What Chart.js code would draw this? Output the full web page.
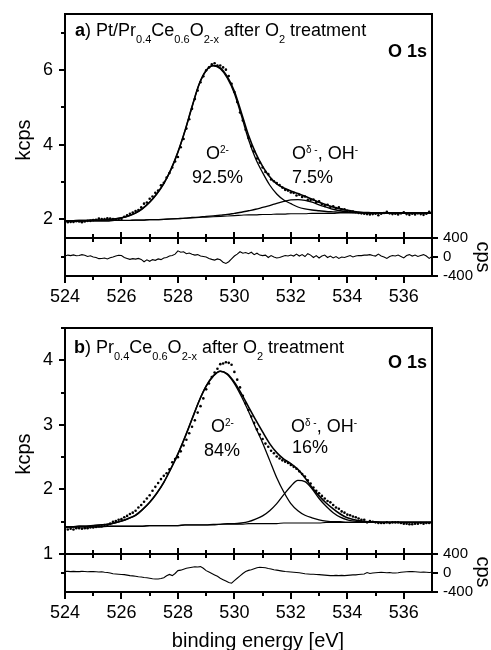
<!DOCTYPE html>
<html>
<head>
<meta charset="utf-8">
<script src="https://cdn.jsdelivr.net/npm/chart.js@4.4.1/dist/chart.umd.min.js"></script>
<style>
  body { margin: 0; background: #fff; }
  #fig { position: relative; width: 491px; height: 650px; overflow: hidden; font-family: 'Liberation Sans', Arial, sans-serif; color: #000; }
  #fig canvas { position: absolute; left: 0; }
  .t { position: absolute; font-size: 18px; line-height: 18px; white-space: nowrap; }
  .sb { position: relative; top: 7px; font-size: 11px; }
  .sp { position: relative; top: -6px; font-size: 10px; }
  .ax { position: absolute; font-size: 20px; line-height: 20px; white-space: nowrap; }
</style>
</head>
<body>
<div id="fig">
  <canvas id="mainA" width="491" height="240" style="top:0px"></canvas>
  <canvas id="resA" width="491" height="93" style="top:228px"></canvas>
  <canvas id="mainB" width="491" height="252" style="top:314px"></canvas>
  <canvas id="resB" width="491" height="93" style="top:544px"></canvas>

  <!-- panel a labels -->
  <div class="t" style="left:75px;top:21px"><b>a</b>) Pt/Pr<span class="sb">0.4</span>Ce<span class="sb">0.6</span>O<span class="sb">2-x</span> after O<span class="sb">2</span> treatment</div>
  <div class="t" style="right:64px;top:42px;font-weight:bold">O 1s</div>
  <div class="t" style="left:206px;top:144px">O<span class="sp">2-</span></div>
  <div class="t" style="left:192px;top:168px">92.5%</div>
  <div class="t" style="left:292px;top:144px">O<span class="sp">δ -</span>, OH<span class="sp">-</span></div>
  <div class="t" style="left:292px;top:168px">7.5%</div>

  <!-- panel b labels -->
  <div class="t" style="left:74px;top:338px"><b>b</b>) Pr<span class="sb">0.4</span>Ce<span class="sb">0.6</span>O<span class="sb">2-x</span> after O<span class="sb">2</span> treatment</div>
  <div class="t" style="right:64px;top:353px;font-weight:bold">O 1s</div>
  <div class="t" style="left:211px;top:417px">O<span class="sp">2-</span></div>
  <div class="t" style="left:204px;top:441px">84%</div>
  <div class="t" style="left:291px;top:417px">O<span class="sp">δ -</span>, OH<span class="sp">-</span></div>
  <div class="t" style="left:292px;top:438px">16%</div>

  <!-- axis titles -->
  <div class="ax" style="left:23px;top:140px;transform:translate(-50%,-50%) rotate(-90deg)">kcps</div>
  <div class="ax" style="left:23px;top:454px;transform:translate(-50%,-50%) rotate(-90deg)">kcps</div>
  <div class="ax" style="left:484px;top:257px;transform:translate(-50%,-50%) rotate(90deg)">cps</div>
  <div class="ax" style="left:484px;top:572px;transform:translate(-50%,-50%) rotate(90deg)">cps</div>
  <div class="ax" style="left:258px;top:630px;transform:translateX(-50%)">binding energy [eV]</div>
</div>

<script>
// ---- data ----

// axis ticks
const xLabels = [524, 526, 528, 530, 532, 534, 536];
const xMinor = [525, 527, 529, 531, 533, 535];
const yLabelsA = [2, 4, 6];
const yMinorA = [3, 5, 7];
const yLabelsB = [1, 2, 3, 4];
const yMinorB = [1.5, 2.5, 3.5, 4.5];
const resTicks = [-400, 0, 400];

// fitted curves, sampled every 0.25 eV
const fitE = [524, 524.25, 524.5, 524.75, 525, 525.25, 525.5, 525.75, 526, 526.25,
  526.5, 526.75, 527, 527.25, 527.5, 527.75, 528, 528.25, 528.5, 528.75,
  529, 529.25, 529.5, 529.75, 530, 530.25, 530.5, 530.75, 531, 531.25,
  531.5, 531.75, 532, 532.25, 532.5, 532.75, 533, 533.25, 533.5, 533.75,
  534, 534.25, 534.5, 534.75, 535, 535.25, 535.5, 535.75, 536, 536.25,
  536.5, 536.75, 537];

// panel a (kcps)
const envA = [1.96, 1.96, 1.97, 1.97, 1.98, 1.98, 1.99, 2.01, 2.04, 2.09,
  2.17, 2.29, 2.46, 2.68, 2.96, 3.33, 3.80, 4.37, 5.02, 5.62,
  5.99, 6.12, 6.06, 5.82, 5.43, 4.85, 4.25, 3.78, 3.42, 3.14,
  2.95, 2.84, 2.76, 2.69, 2.62, 2.54, 2.46, 2.39, 2.33, 2.28,
  2.24, 2.21, 2.19, 2.18, 2.17, 2.17, 2.17, 2.17, 2.17, 2.17,
  2.17, 2.17, 2.17];
const o2A = [1.96, 1.96, 1.97, 1.97, 1.98, 1.98, 1.99, 2.01, 2.04, 2.09,
  2.17, 2.29, 2.46, 2.68, 2.96, 3.33, 3.80, 4.37, 5.01, 5.61,
  5.98, 6.11, 6.03, 5.78, 5.37, 4.77, 4.14, 3.63, 3.25, 2.92,
  2.68, 2.52, 2.42, 2.33, 2.28, 2.25, 2.23, 2.21, 2.20, 2.19,
  2.19, 2.18, 2.18, 2.17, 2.17, 2.17, 2.17, 2.17, 2.17, 2.17,
  2.17, 2.17, 2.17];
const ohA = [1.95, 1.95, 1.95, 1.96, 1.96, 1.96, 1.96, 1.97, 1.97, 1.97,
  1.98, 1.98, 1.99, 1.99, 2.00, 2.01, 2.02, 2.03, 2.05, 2.06,
  2.08, 2.09, 2.11, 2.13, 2.16, 2.19, 2.23, 2.27, 2.32, 2.37,
  2.43, 2.48, 2.52, 2.53, 2.51, 2.46, 2.39, 2.33, 2.27, 2.23,
  2.20, 2.19, 2.18, 2.17, 2.17, 2.17, 2.17, 2.17, 2.17, 2.17,
  2.17, 2.17, 2.17];
const bgA = [1.95, 1.95, 1.95, 1.96, 1.96, 1.96, 1.96, 1.97, 1.97, 1.97,
  1.98, 1.98, 1.99, 1.99, 2.00, 2.01, 2.02, 2.03, 2.04, 2.05,
  2.06, 2.07, 2.08, 2.09, 2.10, 2.11, 2.12, 2.12, 2.13, 2.13,
  2.14, 2.14, 2.15, 2.15, 2.15, 2.16, 2.16, 2.16, 2.16, 2.17,
  2.17, 2.17, 2.17, 2.17, 2.17, 2.17, 2.17, 2.17, 2.17, 2.17,
  2.17, 2.17, 2.17];

// panel b (kcps)
const envB = [1.42, 1.42, 1.43, 1.43, 1.44, 1.45, 1.46, 1.48, 1.51, 1.55,
  1.60, 1.69, 1.80, 1.94, 2.11, 2.32, 2.55, 2.81, 3.09, 3.37,
  3.60, 3.76, 3.83, 3.79, 3.66, 3.48, 3.28, 3.08, 2.89, 2.71,
  2.57, 2.47, 2.40, 2.31, 2.18, 2.03, 1.90, 1.79, 1.70, 1.62,
  1.56, 1.53, 1.51, 1.50, 1.50, 1.49, 1.49, 1.49, 1.49, 1.49,
  1.49, 1.49, 1.49];
const o2B = [1.42, 1.42, 1.43, 1.43, 1.44, 1.45, 1.46, 1.48, 1.51, 1.55,
  1.60, 1.69, 1.80, 1.94, 2.11, 2.32, 2.55, 2.81, 3.09, 3.37,
  3.60, 3.75, 3.83, 3.78, 3.64, 3.44, 3.21, 2.96, 2.72, 2.45,
  2.18, 1.96, 1.78, 1.67, 1.60, 1.56, 1.53, 1.51, 1.50, 1.50,
  1.49, 1.49, 1.49, 1.49, 1.49, 1.49, 1.49, 1.49, 1.49, 1.49,
  1.49, 1.49, 1.49];
const ohB = [1.42, 1.42, 1.42, 1.42, 1.42, 1.42, 1.43, 1.43, 1.43, 1.43,
  1.43, 1.43, 1.44, 1.44, 1.44, 1.44, 1.44, 1.45, 1.45, 1.45,
  1.45, 1.46, 1.46, 1.47, 1.47, 1.48, 1.50, 1.54, 1.59, 1.67,
  1.78, 1.92, 2.05, 2.14, 2.12, 2.01, 1.86, 1.74, 1.64, 1.57,
  1.53, 1.51, 1.50, 1.49, 1.49, 1.49, 1.49, 1.49, 1.49, 1.49,
  1.49, 1.49, 1.49];
const bgB = [1.42, 1.42, 1.42, 1.42, 1.42, 1.42, 1.43, 1.43, 1.43, 1.43,
  1.43, 1.43, 1.44, 1.44, 1.44, 1.44, 1.44, 1.45, 1.45, 1.45,
  1.45, 1.45, 1.46, 1.46, 1.46, 1.46, 1.47, 1.47, 1.47, 1.47,
  1.47, 1.48, 1.48, 1.48, 1.48, 1.48, 1.48, 1.49, 1.49, 1.49,
  1.49, 1.49, 1.49, 1.49, 1.49, 1.49, 1.49, 1.49, 1.49, 1.49,
  1.49, 1.49, 1.49];

// measured points and residuals, every 0.1 eV from 524 to 537
const dataE = Array.from({ length: 131 }, (_, i) => +(524 + i * 0.1).toFixed(1));

const dotsA = [1.94, 1.92, 1.93, 1.93, 1.95, 1.94, 1.92, 1.94, 1.96, 1.96,
  1.98, 1.99, 2.02, 2.01, 2.01, 2.03, 2.02, 2.01, 2.00, 1.99,
  2.01, 2.07, 2.11, 2.15, 2.18, 2.22, 2.25, 2.32, 2.42, 2.45,
  2.55, 2.61, 2.71, 2.77, 2.91, 2.98, 3.12, 3.24, 3.39, 3.55,
  3.67, 3.93, 4.15, 4.43, 4.68, 4.96, 5.22, 5.45, 5.67, 5.83,
  5.99, 6.07, 6.15, 6.18, 6.12, 6.12, 6.07, 6.01, 5.84, 5.63,
  5.41, 5.14, 4.86, 4.65, 4.40, 4.18, 3.96, 3.82, 3.63, 3.52,
  3.39, 3.27, 3.21, 3.07, 3.02, 2.97, 2.92, 2.85, 2.79, 2.77,
  2.72, 2.71, 2.64, 2.66, 2.60, 2.61, 2.52, 2.52, 2.53, 2.46,
  2.48, 2.41, 2.36, 2.39, 2.33, 2.35, 2.30, 2.32, 2.27, 2.27,
  2.23, 2.20, 2.21, 2.19, 2.17, 2.16, 2.15, 2.14, 2.13, 2.14,
  2.15, 2.11, 2.15, 2.17, 2.20, 2.16, 2.14, 2.15, 2.13, 2.16,
  2.19, 2.14, 2.12, 2.15, 2.13, 2.16, 2.14, 2.12, 2.15, 2.20,
  2.16];
const resA = [20, 40, 30, 45, 25, 30, 50, 35, 10, 25,
  0, -10, -35, -30, -20, -40, -15, 0, 20, 35,
  30, -10, -30, -50, -35, -45, -30, -50, -100, -60,
  -90, -55, -70, -40, -55, -20, -10, 20, 30, 60,
  130, 100, 110, 70, 85, 60, 40, 50, 20, 10,
  0, -30, -50, -65, -40, -60, -110, -135, -100, -40,
  20, 60, 110, 80, 95, 70, 100, 50, 80, 40,
  30, 40, -10, 30, 0, -20, -10, 10, 30, 20,
  40, 20, 60, 20, 50, 10, 70, 40, -10, 30,
  -20, 20, 40, -10, 20, -20, 10, -30, 0, -10,
  10, 30, 0, 20, 30, 30, 40, 40, 50, 30,
  20, 60, 20, 0, -30, 10, 30, 20, 40, 10,
  -20, 30, 50, 20, 40, 10, 30, 50, 20, -30,
  10];

const dotsB = [1.39, 1.38, 1.39, 1.38, 1.40, 1.40, 1.39, 1.40, 1.40, 1.41,
  1.41, 1.42, 1.43, 1.43, 1.45, 1.45, 1.47, 1.50, 1.51, 1.53,
  1.54, 1.57, 1.59, 1.62, 1.64, 1.67, 1.72, 1.76, 1.81, 1.86,
  1.91, 1.98, 2.04, 2.10, 2.16, 2.21, 2.25, 2.31, 2.42, 2.47,
  2.50, 2.59, 2.68, 2.77, 2.87, 2.97, 3.07, 3.19, 3.29, 3.41,
  3.55, 3.64, 3.74, 3.81, 3.87, 3.94, 3.95, 3.97, 3.96, 3.93,
  3.82, 3.70, 3.58, 3.45, 3.33, 3.23, 3.13, 3.03, 2.93, 2.85,
  2.78, 2.71, 2.66, 2.60, 2.56, 2.51, 2.48, 2.45, 2.43, 2.41,
  2.38, 2.35, 2.32, 2.28, 2.24, 2.20, 2.14, 2.09, 2.03, 1.98,
  1.94, 1.90, 1.86, 1.82, 1.80, 1.76, 1.72, 1.70, 1.66, 1.64,
  1.61, 1.60, 1.58, 1.57, 1.55, 1.53, 1.53, 1.49, 1.51, 1.50,
  1.49, 1.48, 1.48, 1.48, 1.49, 1.48, 1.49, 1.49, 1.49, 1.48,
  1.47, 1.47, 1.46, 1.46, 1.47, 1.47, 1.48, 1.47, 1.48, 1.48,
  1.48];
const resB = [35, 35, 30, 35, 30, 30, 35, 30, 25, 30,
  30, 25, 20, 25, 15, 10, 0, -15, -20, -25,
  -30, -35, -45, -55, -60, -70, -80, -85, -95, -100,
  -110, -120, -125, -125, -115, -100, -60, -30, -55, -10,
  50, 60, 80, 100, 110, 120, 130, 125, 135, 100,
  50, 20, -10, -40, -70, -110, -140, -170, -200, -215,
  -160, -110, -60, -10, 30, 55, 70, 90, 110, 120,
  115, 110, 95, 85, 70, 60, 50, 40, 30, 25,
  20, 15, 10, 5, -5, -15, -20, -25, -25, -30,
  -35, -40, -45, -50, -55, -55, -50, -55, -50, -55,
  -50, -45, -40, -40, -30, -25, -20, 10, -10, 0,
  5, 10, 15, 10, 5, 10, 0, 0, 5, 15,
  20, 25, 30, 30, 25, 20, 15, 20, 15, 10,
  15];

// ---- drawing ----
const ink = '#000';
Chart.defaults.font.family = "'Liberation Sans', Arial, sans-serif";
Chart.defaults.color = ink;

const xy = (xs, ys) => ys.map((y, i) => ({ x: xs[i], y }));

// frame around the plot area and tick marks on its edges
const axisMarks = {
  id: 'axisMarks',
  afterDatasetsDraw(chart, args, opts) {
    const { ctx, chartArea: a } = chart;
    ctx.save();
    ctx.strokeStyle = ink;
    ctx.lineWidth = 2;
    ctx.strokeRect(a.left, a.top, a.right - a.left, a.bottom - a.top);
    for (const m of opts.marks || []) {
      const scale = chart.scales[m.scale];
      const inner = m.in || 0;
      ctx.beginPath();
      for (const v of m.values) {
        const p = Math.round(scale.getPixelForValue(v));
        if (m.edge === 'left') { ctx.moveTo(a.left - m.out, p); ctx.lineTo(a.left + inner, p); }
        if (m.edge === 'right') { ctx.moveTo(a.right - inner, p); ctx.lineTo(a.right + m.out, p); }
        if (m.edge === 'top') { ctx.moveTo(p, a.top - m.out); ctx.lineTo(p, a.top + inner); }
        if (m.edge === 'bottom') { ctx.moveTo(p, a.bottom - inner); ctx.lineTo(p, a.bottom + m.out); }
      }
      ctx.stroke();
    }
    ctx.restore();
  }
};

// fixed axis sizes; drop the extra room chart.js keeps for edge labels
const fixWidth = w => s => { s.width = w; s.paddingTop = 0; s.paddingBottom = 0; };
const fixHeight = h => s => { s.height = h; s.paddingLeft = 0; s.paddingRight = 0; };

function curve(ys, w) {
  return { data: xy(fitE, ys), borderColor: ink, borderWidth: w, pointRadius: 0,
    fill: false, cubicInterpolationMode: 'monotone' };
}

function dots(ys) {
  return { data: xy(dataE, ys), showLine: false, pointRadius: 1.3,
    pointBackgroundColor: ink, pointBorderWidth: 0 };
}

const noHelp = { legend: { display: false }, tooltip: { enabled: false } };

function mainPanel(id, datasets, yMin, yMax, yLabels, yMinor, padBottom) {
  return new Chart(document.getElementById(id), {
    type: 'line',
    data: { datasets },
    options: {
      responsive: false, animation: false, devicePixelRatio: 1,
      layout: { autoPadding: false, padding: { top: 14, right: 59, bottom: padBottom, left: 0 } },
      plugins: { ...noHelp, axisMarks: { marks: [
        { scale: 'y', edge: 'left', values: yLabels, out: 6 },
        { scale: 'y', edge: 'left', values: yMinor, out: 4 }
      ] } },
      scales: {
        x: { type: 'linear', min: 524, max: 537, display: false },
        y: {
          min: yMin, max: yMax,
          afterBuildTicks: s => { s.ticks = yLabels.map(v => ({ value: v })); },
          afterFit: fixWidth(65),
          grid: { display: false, drawTicks: false },
          border: { display: false },
          ticks: { padding: 12, color: ink, font: { size: 18 }, autoSkip: false }
        }
      }
    },
    plugins: [axisMarks]
  });
}

function residPanel(id, res) {
  return new Chart(document.getElementById(id), {
    type: 'line',
    data: { datasets: [{ data: xy(dataE, res), borderColor: ink, borderWidth: 1.1, pointRadius: 0 }] },
    options: {
      responsive: false, animation: false, devicePixelRatio: 1,
      layout: { autoPadding: false, padding: { top: 10, right: 0, bottom: 0, left: 65 } },
      plugins: { ...noHelp, axisMarks: { marks: [
        { scale: 'x', edge: 'top', values: xLabels, out: 6, in: 6 },
        { scale: 'x', edge: 'top', values: xMinor, out: 4, in: 4 },
        { scale: 'x', edge: 'bottom', values: xLabels, out: 7 },
        { scale: 'x', edge: 'bottom', values: xMinor, out: 4 },
        { scale: 'y', edge: 'right', values: resTicks, out: 6 },
        { scale: 'y', edge: 'left', values: [0], out: 4 }
      ] } },
      scales: {
        x: {
          type: 'linear', min: 524, max: 537,
          afterBuildTicks: s => { s.ticks = xLabels.map(v => ({ value: v })); },
          afterFit: fixHeight(45),
          grid: { display: false, drawTicks: false },
          border: { display: false },
          ticks: { padding: 10, color: ink, font: { size: 18 }, maxRotation: 0, autoSkip: false }
        },
        y: {
          position: 'right', min: -400, max: 400,
          afterBuildTicks: s => { s.ticks = resTicks.map(v => ({ value: v })); },
          afterFit: fixWidth(59),
          grid: { display: false, drawTicks: false },
          border: { display: false },
          ticks: { padding: 11, color: ink, font: { size: 15 }, autoSkip: false }
        }
      }
    },
    plugins: [axisMarks]
  });
}

mainPanel('mainA', [dots(dotsA), curve(envA, 1.6), curve(o2A, 1.3), curve(ohA, 1.3), curve(bgA, 1.1)],
  1.5, 7.5, yLabelsA, yMinorA, 2);
residPanel('resA', resA);
mainPanel('mainB', [dots(dotsB), curve(envB, 1.6), curve(o2B, 1.3), curve(ohB, 1.3), curve(bgB, 1.1)],
  1, 4.5, yLabelsB, yMinorB, 12);
residPanel('resB', resB);
</script>
</body>
</html>
